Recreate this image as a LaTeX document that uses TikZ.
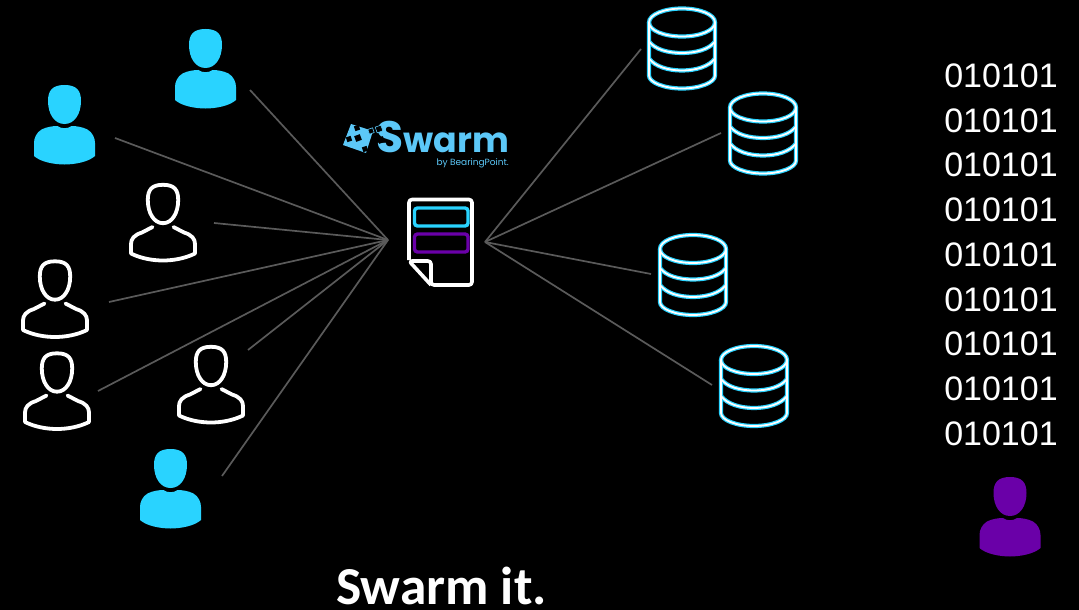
\documentclass[tikz,border=0pt]{standalone}
\usepackage{fontspec}
\setmainfont{Liberation Sans}
\newfontfamily\calfont{Carlito}
\newfontfamily\popfont{Poppins}
\definecolor{skyb}{HTML}{29D3FF}
\definecolor{purp}{HTML}{6A00A8}
\definecolor{logob}{HTML}{5CC8F8}
\definecolor{wire}{HTML}{5A5A5A}
\tikzset{
  x=1pt,y=-1pt,
  wireline/.style={draw=wire,line width=1.7pt},
  logosq/.style={fill=black,rotate=19,minimum size=#1,inner sep=0pt},
  solidperson/.pic={
    \fill[pic actions] (0,0) .. controls (12.5,0) and (16.5,6) .. (16.5,16)
      .. controls (16.5,29) and (10,39) .. (0,39)
      .. controls (-10,39) and (-16.5,29) .. (-16.5,16)
      .. controls (-16.5,6) and (-12.5,0) .. (0,0) -- cycle;
    \fill[pic actions] (-7,41) .. controls (-3,44) and (3,44) .. (7,41)
      .. controls (12,41) and (18,42) .. (23,44.5)
      .. controls (28,47.5) and (30.5,53) .. (30.5,58)
      -- (30.5,71) .. controls (24,77) and (10,79.5) .. (0,79.5)
      .. controls (-10,79.5) and (-24,77) .. (-30.5,71) -- (-30.5,58)
      .. controls (-30.5,53) and (-28,47.5) .. (-23,44.5)
      .. controls (-18,42) and (-12,41) .. (-7,41) -- cycle;
  },
  lineperson/.pic={
    \draw[white,line width=3.8pt,line cap=round,line join=round]
      (0,1.8) .. controls (11.5,1.8) and (15.2,7) .. (15.2,17)
      .. controls (15.2,30) and (9,40.2) .. (0,40.2)
      .. controls (-9,40.2) and (-15.2,30) .. (-15.2,17)
      .. controls (-15.2,7) and (-11.5,1.8) .. (0,1.8) -- cycle;
    \draw[white,line width=3.8pt,line cap=round,line join=round]
      (-10.5,44) -- (-21,49.5) .. controls (-29,52) and (-32,56) .. (-32,61)
      -- (-32,70.5) .. controls (-22,75.5) and (-10,77.5) .. (0,77.5)
      .. controls (10,77.5) and (22,75.5) .. (32,70.5) -- (32,61)
      .. controls (32,56) and (29,52) .. (21,49.5) -- (10.5,44);
  },
  dbshape/.pic={
    \foreach \lw/\col in {4.2pt/skyb,1.8pt/white}{
      \draw[\col,line width=\lw]
        (0,-40) .. controls (18,-40) and (33,-34) .. (33,-26)
        .. controls (33,-18) and (18,-12) .. (0,-12)
        .. controls (-18,-12) and (-33,-18) .. (-33,-26)
        .. controls (-33,-34) and (-18,-40) .. (0,-40) -- cycle;
      \draw[\col,line width=\lw] (-33,-26) -- (-33,27)
        .. controls (-33,34) and (-18,40) .. (0,40)
        .. controls (18,40) and (33,34) .. (33,27) -- (33,-26);
      \draw[\col,line width=\lw] (-33,-7) .. controls (-27,1) and (-14,4.5) .. (0,4.5)
        .. controls (14,4.5) and (27,1) .. (33,-7);
      \draw[\col,line width=\lw] (-33,10) .. controls (-27,18) and (-14,22) .. (0,22)
        .. controls (14,22) and (27,18) .. (33,10);
    }
  },
}
\begin{document}
\begin{tikzpicture}
\useasboundingbox[fill=black] (0,0) rectangle (1079,610);

% hubs
\coordinate (hubL) at (388,240);
\coordinate (hubR) at (485,242);
% free ends
\coordinate (a1) at (250,90);
\coordinate (a2) at (115,138);
\coordinate (a3) at (214,223);
\coordinate (a4) at (109,302);
\coordinate (a5) at (98,391);
\coordinate (a6) at (248,350);
\coordinate (a7) at (222,476);
\coordinate (b1) at (641,49);
\coordinate (b2) at (721,133);
\coordinate (b3) at (651,274);
\coordinate (b4) at (712,385);
\foreach \e in {a1,a2,a3,a4,a5,a6,a7}{\draw[wireline] (\e) -- (hubL);}
\foreach \e in {b1,b2,b3,b4}{\draw[wireline] (hubR) -- (\e);}

% people
\pic[fill=skyb] at (205.5,29) {solidperson};
\pic[fill=skyb] at (64.5,85) {solidperson};
\pic[fill=skyb] at (170.5,449) {solidperson};
\pic[fill=purp] at (1010,477) {solidperson};
\pic at (163,183) {lineperson};
\pic at (55,259.5) {lineperson};
\pic at (57,351.5) {lineperson};
\pic at (211,345) {lineperson};

% databases
\pic at (682,48.5) {dbshape};
\pic at (763,133.5) {dbshape};
\pic at (693,275) {dbshape};
\pic at (754,386) {dbshape};

% document
\draw[white,line width=3.6pt,line join=round,rounded corners=3pt]
  (409,260) -- (409,199.5) -- (472,199.5) -- (472,285) -- (431,285) -- (431,261) -- (409,261) -- (431,285);
\draw[skyb,line width=3.4pt,rounded corners=3pt] (414.5,208) rectangle (468,226);
\draw[purp,line width=3.4pt,rounded corners=3pt] (414.5,234) rectangle (468,252);

% logo
\fill[logob] (351,124) -- (373,131) -- (366,153) -- (343,145) -- cycle;
\node[text=logob,anchor=base west,inner sep=0pt,font=\popfont\bfseries] (logo) at (376.5,152) {{\fontsize{44}{44}\selectfont S}{\fontsize{34.8}{34.8}\selectfont warm}};
\node[logosq=5pt] (q1) at (357,128) {};
\node[logosq=6pt] (q2) at (358,138) {};
\node[logosq=5pt] (q3) at (349,139) {};
\node[logosq=5pt] (q4) at (365,149) {};
\node[logosq=5pt,draw=logob,line width=.6pt] (q5) at (371,131) {};
\node[logosq=6pt,draw=logob,line width=.6pt] (q6) at (379,129) {};
\node[logosq=6pt] (q7) at (381,140) {};
\node[text=logob,anchor=base east,inner sep=0pt,font=\popfont\fontsize{9}{9}\selectfont] (logoby) at (509,165) {by BearingPoint.};

% binary
\node[white,anchor=north,inner sep=0pt,align=left,font=\fontsize{34}{44.75}\selectfont] (bits) at (1001,63.5)
 {010101\\010101\\010101\\010101\\010101\\010101\\010101\\010101\\010101};

% caption
\node[white,anchor=base,inner sep=0pt,font=\calfont\bfseries\fontsize{53.4}{53.4}\selectfont] (cap) at (441.5,604) {Swarm it.};
\end{tikzpicture}
\end{document}
